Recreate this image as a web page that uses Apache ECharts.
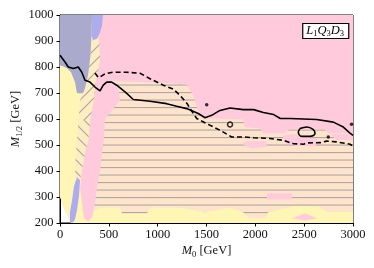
<!DOCTYPE html>
<html><head><meta charset="utf-8">
<script src="https://cdn.jsdelivr.net/npm/echarts@6/dist/echarts.min.js"></script>
<style>html,body{margin:0;padding:0;background:#fff}#c{width:374px;height:268px}</style>
</head><body><div id="c"></div>
<script>
// ---- axes ----
const xTicks = [0, 500, 1000, 1500, 2000, 2500, 3000];
const yTicks = [200, 300, 400, 500, 600, 700, 800, 900, 1000];

// ---- regions (M0, M1/2) ----
const pinkRegion = [[0,1000],[3000,1000],[3000,200],[113,200],[72,233],[31,267],[0,302]];
const yellowRegion = [[0,814],[0,302],[31,267],[72,233],[113,200],[3000,200],[3000,300],[1000,300],[410,600],[410,749],[400,870],[358,910],[328,1000],[0,1000]];
const diagUpRegion = [[328,903],[399,910],[410,826],[389,730],[348,634],[330,595],[190,595],[195,614],[205,672],[236,699],[266,730],[297,807]];
const diagLowRegion = [[330,595],[307,557],[266,480],[225,403],[195,345],[164,345],[154,422],[174,518],[190,595]];
const peachRegion = [[358,732],[410,749],[614,745],[922,741],[1178,737],[1300,732],[1362,691],[1413,633],[1485,603],[1874,598],[1894,568],[2050,564],[2080,545],[2300,545],[2350,560],[2700,560],[2760,545],[3000,545],[3000,242],[2734,242],[2642,264],[2386,264],[2130,241],[2099,218],[1945,218],[1874,241],[1741,260],[1485,241],[1229,260],[922,260],[891,237],[635,237],[614,260],[410,260],[307,241],[266,241],[266,287],[307,480],[348,672]];
const pinkStrip = [[410,826],[491,757],[594,732],[614,672],[532,633],[461,603],[451,530],[430,468],[410,403],[379,337],[358,276],[328,222],[287,206],[246,218],[225,276],[205,337],[225,403],[256,468],[297,530],[307,595],[348,672],[369,749]];
const pinkPatch1 = [[2280,537],[2400,541],[2560,530],[2630,520],[2620,495],[2400,497],[2300,510]];
const pinkPatch2 = [[2765,541],[3000,541],[3000,518],[2830,520]];
const pinkPatch3 = [[1864,505],[1915,514],[2109,514],[2119,494],[1950,487]];
const pinkPatch4 = [[2119,314],[2375,314],[2375,291],[2119,291]];
const pinkPatch5 = [[2375,218],[2509,237],[2632,218],[2509,210]];
const slateRegion = [[0,1000],[328,1000],[323,922],[312,845],[287,768],[256,718],[236,699],[174,699],[154,741],[113,780],[72,795],[31,803],[0,806]];
const lightBlueRegion = [[328,1000],[440,1000],[430,960],[410,933],[379,910],[338,903],[323,922]];
const blueStrip = [[174,376],[205,364],[195,306],[174,249],[154,214],[133,202],[102,202],[102,241],[123,287],[143,341]];

// ---- contours ----
const solidLine = [[0,845],[51,819],[85,800],[136,794],[187,800],[222,781],[256,749],[307,742],[358,723],[410,708],[443,730],[478,742],[529,742],[580,730],[666,704],[751,675],[922,668],[1092,659],[1195,649],[1297,640],[1416,621],[1485,605],[1553,614],[1638,633],[1741,642],[1877,636],[1983,636],[2082,625],[2188,617],[2256,602],[2355,602],[2628,598],[2799,588],[2901,569],[2969,546],[3000,537]];
const dashedLine = [[358,777],[392,760],[420,764],[460,774],[540,780],[680,780],[820,776],[922,755],[1058,730],[1160,715],[1229,691],[1300,660],[1331,640],[1400,602],[1502,582],[1638,557],[1758,531],[1877,531],[1983,528],[2150,525],[2286,518],[2389,505],[2495,503],[2526,508],[2665,509],[2730,515],[2833,512],[2969,503],[3000,496]];
const loopLine = [[2457,563],[2526,569],[2594,559],[2611,544],[2560,533],[2475,533],[2440,550],[2457,563]];
const dots = [[1502,655],[2747,531],[2985,580]];
const rings = [[1741,579]];

// ---- patterns ----
function stripePattern(bg, line) {
  const c = document.createElement('canvas'); c.width = 8; c.height = 15;
  const g = c.getContext('2d');
  g.fillStyle = bg; g.fillRect(0,0,8,15);
  g.fillStyle = line; g.fillRect(0,2,8,1.1); g.fillRect(0,9.5,8,1.1);
  return {image: c, repeat: 'repeat'};
}
function diagPattern(bg, line, dir) {
  const n = 12;
  const c = document.createElement('canvas'); c.width = n; c.height = n;
  const g = c.getContext('2d');
  g.fillStyle = bg; g.fillRect(0,0,n,n);
  g.strokeStyle = line; g.lineWidth = 1.2;
  g.beginPath();
  if (dir > 0) { g.moveTo(-2,n+2); g.lineTo(n+2,-2); g.moveTo(-2,2); g.lineTo(2,-2); g.moveTo(n-2,n+2); g.lineTo(n+2,n-2); }
  else { g.moveTo(-2,-2); g.lineTo(n+2,n+2); g.moveTo(n-2,-2); g.lineTo(n+2,2); g.moveTo(-2,n-2); g.lineTo(2,n+2); }
  g.stroke();
  return {image: c, repeat: 'repeat'};
}

function region(poly, fill) {
  return {
    type: 'custom', coordinateSystem: 'cartesian2d', silent: true, animation: false,
    data: poly, encode: {x: 0, y: 1},
    renderItem: function (params, api) {
      if (params.dataIndex !== 0) return null;
      const pts = poly.map(p => api.coord(p));
      return {type: 'polygon', shape: {points: pts}, style: {fill: fill, stroke: null}};
    }
  };
}

const PINK = '#ffcadc', YELLOW = '#fff5b4', PEACH = '#ffe3ca', SLATE = '#aaaacd', LBLUE = '#acacee';
const serif = 'Liberation Serif';
const richSub = {
  i: {fontFamily: serif, fontStyle: 'italic', fontWeight: 'normal', fontSize: 12.5, lineHeight: 16, color: '#111'},
  s: {fontFamily: serif, fontWeight: 'normal', fontSize: 8.5, verticalAlign: 'bottom', color: '#111'}
};

const chart = echarts.init(document.getElementById('c'), null, {renderer: 'canvas'});
chart.setOption({
  animation: false,
  grid: {left: 60, right: 21, top: 15, bottom: 45, show: true, borderColor: '#000', borderWidth: 1, backgroundColor: 'transparent', outerBoundsMode: 'none', containLabel: false},
  title: {
    text: '{i|L}{s|1}{i|Q}{s|3}{i|D}{s|3}',
    right: 25, top: 23, padding: [1, 5, 1, 4],
    borderColor: '#000', borderWidth: 1.2, backgroundColor: '#fff',
    textStyle: {fontWeight: 'normal', rich: {
      i: {fontFamily: serif, fontStyle: 'italic', fontWeight: 'normal', fontSize: 12.5, lineHeight: 14, color: '#000'},
      s: {fontFamily: serif, fontWeight: 'normal', fontSize: 8.5, verticalAlign: 'bottom', color: '#000'}
    }}
  },
  xAxis: {
    type: 'value', min: xTicks[0], max: xTicks[xTicks.length-1], interval: xTicks[1]-xTicks[0],
    axisLine: {show: true, onZero: false, lineStyle: {color: '#000', width: 1}},
    axisTick: {show: true, inside: false, length: 3.5, lineStyle: {color: '#000', width: 1}},
    splitLine: {show: false},
    axisLabel: {color: '#111', fontFamily: serif, fontSize: 12.5, margin: 5, formatter: v => String(v)},
    name: '{i|M}{s|0} [GeV]', nameLocation: 'middle', nameGap: 20, nameMoveOverlap: false,
    nameTextStyle: {color: '#111', fontFamily: serif, fontSize: 12.5, lineHeight: 16, rich: richSub}
  },
  yAxis: {
    type: 'value', min: yTicks[0], max: yTicks[yTicks.length-1], interval: yTicks[1]-yTicks[0],
    axisLine: {show: true, onZero: false, lineStyle: {color: '#000', width: 1}},
    axisTick: {show: true, inside: false, length: 3.5, lineStyle: {color: '#000', width: 1}},
    splitLine: {show: false},
    axisLabel: {color: '#111', fontFamily: serif, fontSize: 12.5, margin: 6.5, formatter: v => String(v)},
    name: '{i|M}{s|1/2} [GeV]', nameLocation: 'middle', nameGap: 36, nameMoveOverlap: false,
    nameTextStyle: {color: '#111', fontFamily: serif, fontSize: 12.5, lineHeight: 16, rich: richSub}
  },
  series: [
    region(pinkRegion, PINK),
    region(yellowRegion, YELLOW),
    region(diagUpRegion, diagPattern('#ffedc2', '#a8a8a8', 1)),
    region(diagLowRegion, diagPattern('#ffedc2', '#a8a8a8', -1)),
    region(peachRegion, stripePattern(PEACH, '#a9a9a9')),
    region(pinkStrip, PINK),
    region(pinkPatch1, PINK),
    region(pinkPatch2, PINK),
    region(pinkPatch3, PINK),
    region(pinkPatch4, PINK),
    region(pinkPatch5, PINK),
    region(slateRegion, SLATE),
    region(lightBlueRegion, LBLUE),
    region(blueStrip, LBLUE),
    {type: 'line', data: solidLine, showSymbol: false, silent: true, lineStyle: {color: '#000', width: 1.6}, z: 5},
    {type: 'line', data: dashedLine, showSymbol: false, silent: true, lineStyle: {color: '#000', width: 1.6, type: [5, 3]}, z: 5},
    {type: 'line', data: loopLine, showSymbol: false, silent: true, smooth: 0.4, lineStyle: {color: '#000', width: 1.6}, z: 5},
    {type: 'scatter', data: dots, symbolSize: 3.5, silent: true, itemStyle: {color: '#000'}, z: 5},
    {type: 'scatter', data: rings, symbolSize: 5, silent: true, itemStyle: {color: 'rgba(0,0,0,0)', borderColor: '#000', borderWidth: 1.5}, z: 5}
  ]
});
</script>
</body></html>
